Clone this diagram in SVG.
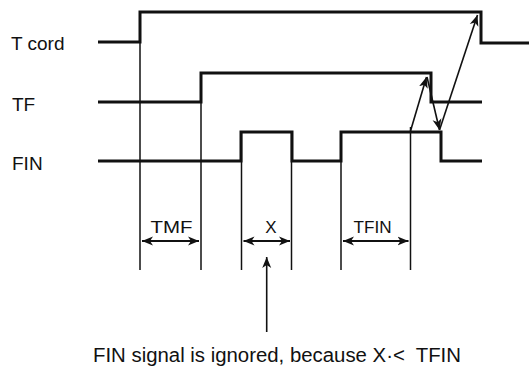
<svg xmlns="http://www.w3.org/2000/svg" width="529" height="366" viewBox="0 0 529 366">
<style>
.sig{fill:none;stroke:#111;stroke-width:3;stroke-linejoin:miter;stroke-linecap:butt}
.thin{fill:none;stroke:#111;stroke-width:1.5}
.arr{fill:none;stroke:#111;stroke-width:1.6;marker-end:url(#ah)}
.dbl{fill:none;stroke:#111;stroke-width:1.8;marker-start:url(#ah);marker-end:url(#ah)}
.lbl{font-family:"Liberation Sans",Arial,sans-serif;font-size:19px;fill:#111}
.dim{font-family:"Liberation Sans",Arial,sans-serif;font-size:17px;fill:#111;text-anchor:middle}
.note{font-family:"Liberation Sans",Arial,sans-serif;font-size:20px;fill:#111;white-space:pre}
</style>
<defs>
<marker id="ah" markerUnits="userSpaceOnUse" markerWidth="14" markerHeight="10" refX="11" refY="5" orient="auto-start-reverse" viewBox="0 0 14 10">
<path d="M0,0.5 L11,5 L0,9.5 L3,5 Z" fill="#111"/>
</marker>
</defs>
<rect width="529" height="366" fill="#fff"/>
<g id="tcord">
<text class="lbl" x="11" y="50">T cord</text>
<polyline class="sig" points="98,42 140,42 140,12 481,12 481,43 529,43"/>
</g>
<g id="tf">
<text class="lbl" x="12" y="111">TF</text>
<polyline class="sig" points="98,102 201,102 201,73 431,73 431,102 482,102"/>
</g>
<g id="fin">
<text class="lbl" x="12" y="170">FIN</text>
<polyline class="sig" points="98,161 241,161 241,132 292,132 292,161 341,161 341,132 441,132 441,161 482,161"/>
</g>
<g id="guides">
<line class="thin" x1="140" y1="12" x2="140" y2="270"/>
<line class="thin" x1="201" y1="73" x2="201" y2="270"/>
<line class="thin" x1="241.5" y1="132" x2="241.5" y2="270"/>
<line class="thin" x1="291.5" y1="132" x2="291.5" y2="270"/>
<line class="thin" x1="341" y1="132" x2="341" y2="270"/>
<line class="thin" x1="410.5" y1="127" x2="410.5" y2="270"/>
</g>
<g id="connectors">
<line class="arr" x1="410.5" y1="131" x2="426.5" y2="77"/>
<line class="arr" x1="427" y1="77" x2="439.5" y2="130"/>
<line class="arr" x1="439.5" y1="130" x2="477.5" y2="15"/>
<line class="dbl" x1="142" y1="241" x2="199" y2="241"/>
<line class="dbl" x1="243.5" y1="241" x2="290" y2="241"/>
<line class="dbl" x1="343" y1="241" x2="408.5" y2="241"/>
<line class="arr" x1="266.7" y1="332" x2="266.7" y2="257"/>
</g>
<g id="dims">
<text class="dim" x="171.5" y="233" textLength="42" lengthAdjust="spacingAndGlyphs">TMF</text>
<text class="dim" x="271" y="233" font-size="18">X</text>
<text class="dim" x="372.5" y="233" textLength="38" lengthAdjust="spacingAndGlyphs">TFIN</text>
</g>
<g id="note">
<text class="note" x="93" y="362" xml:space="preserve" textLength="368" lengthAdjust="spacingAndGlyphs">FIN signal is ignored, because X·&lt;  TFIN</text>
</g>
</svg>
